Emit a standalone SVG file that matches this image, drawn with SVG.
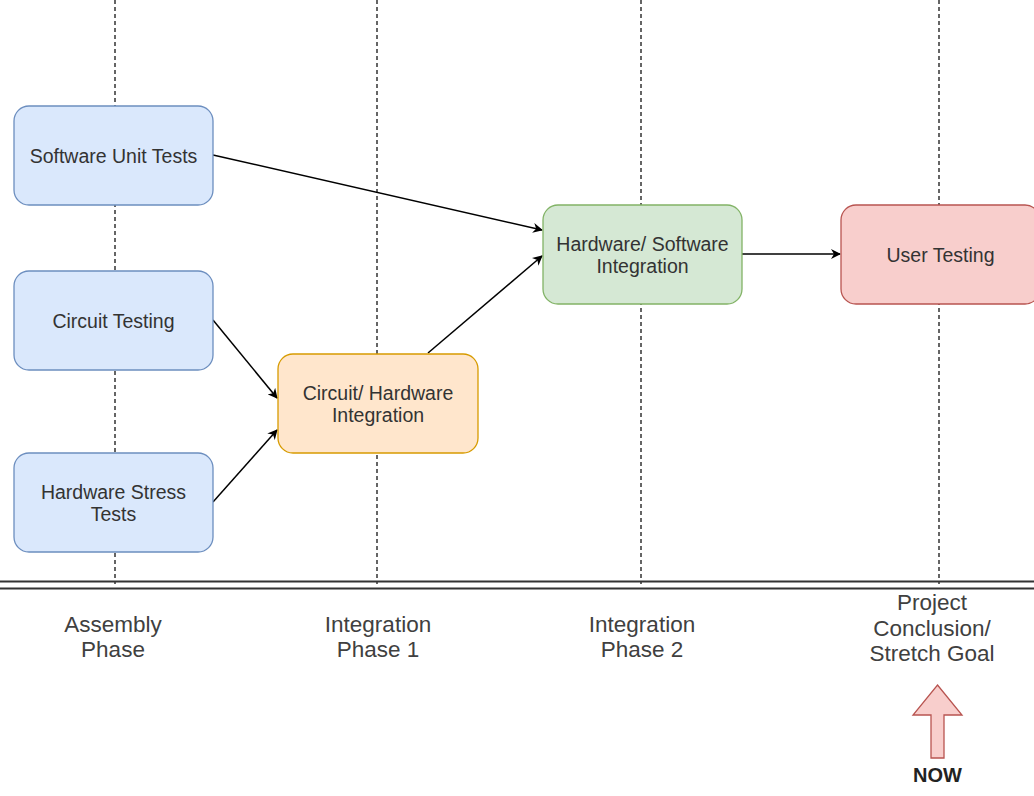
<svg xmlns="http://www.w3.org/2000/svg" width="1034" height="796" viewBox="0 0 1034 796">
<defs>
<style>
.lane{stroke:#333;stroke-width:1.5;stroke-dasharray:4 3;fill:none}
.base{stroke:#333;stroke-width:2;fill:none}
.box{stroke-width:1.3}
.blue{fill:#dae8fc;stroke:#6c8ebf}
.orange{fill:#ffe6cc;stroke:#d79b00}
.green{fill:#d5e8d4;stroke:#82b366}
.red{fill:#f8cecc;stroke:#b85450}
.t{font-family:"Liberation Sans",Arial,sans-serif;font-size:19.5px;fill:#333;text-anchor:middle}
.lbl{font-family:"Liberation Sans",Arial,sans-serif;font-size:22.5px;fill:#404040;text-anchor:middle}
.edge{stroke:#000;stroke-width:1.5;fill:none;marker-end:url(#ah)}
</style>
<marker id="ah" viewBox="0 0 10 10" refX="9" refY="5" markerWidth="10" markerHeight="10" markerUnits="userSpaceOnUse" orient="auto">
<path d="M0,0 L10,5 L0,10 L3,5 Z" fill="#000"/>
</marker>
</defs>
<rect width="1034" height="796" fill="#fff"/>
<g id="timeline">
<line class="lane" x1="115" y1="0" x2="115" y2="584"/>
<line class="lane" x1="377" y1="0" x2="377" y2="584"/>
<line class="lane" x1="641" y1="0" x2="641" y2="584"/>
<line class="lane" x1="939" y1="0" x2="939" y2="584"/>
<line class="base" x1="0" y1="581.5" x2="1034" y2="581.5"/>
<line class="base" x1="0" y1="588.5" x2="1034" y2="588.5"/>
</g>
<g id="connectors">
<line class="edge" x1="213" y1="155" x2="542" y2="230"/>
<line class="edge" x1="213" y1="320" x2="277" y2="398"/>
<line class="edge" x1="213" y1="502" x2="277" y2="430"/>
<line class="edge" x1="428" y1="353" x2="542" y2="256"/>
<line class="edge" x1="742" y1="254" x2="840" y2="254"/>
</g>
<g id="software-unit-tests">
<rect class="box blue" x="14" y="106" width="199" height="99" rx="15"/>
<text class="t" x="113.5" y="162.5">Software Unit Tests</text>
</g>
<g id="circuit-testing">
<rect class="box blue" x="14" y="271" width="199" height="99" rx="15"/>
<text class="t" x="113.5" y="327.5">Circuit Testing</text>
</g>
<g id="hardware-stress-tests">
<rect class="box blue" x="14" y="453" width="199" height="99" rx="15"/>
<text class="t" x="113.5" y="498.5">Hardware Stress</text>
<text class="t" x="113.5" y="520.5">Tests</text>
</g>
<g id="circuit-hardware-integration">
<rect class="box orange" x="278" y="354" width="200" height="99" rx="15"/>
<text class="t" x="378" y="399.5">Circuit/ Hardware</text>
<text class="t" x="378" y="421.5">Integration</text>
</g>
<g id="hardware-software-integration">
<rect class="box green" x="543" y="205" width="199" height="99" rx="15"/>
<text class="t" x="642.5" y="250.5">Hardware/ Software</text>
<text class="t" x="642.5" y="272.5">Integration</text>
</g>
<g id="user-testing">
<rect class="box red" x="841" y="205" width="199" height="99" rx="15"/>
<text class="t" x="940.5" y="261.5">User Testing</text>
</g>
<g id="phase-labels">
<text class="lbl" x="113" y="632">Assembly</text>
<text class="lbl" x="113" y="657">Phase</text>
<text class="lbl" x="378" y="632">Integration</text>
<text class="lbl" x="378" y="657">Phase 1</text>
<text class="lbl" x="642" y="632">Integration</text>
<text class="lbl" x="642" y="657">Phase 2</text>
<text class="lbl" x="932" y="610">Project</text>
<text class="lbl" x="932" y="636">Conclusion/</text>
<text class="lbl" x="932" y="661">Stretch Goal</text>
</g>
<g id="now-marker">
<path d="M937.5,685 L962,715 L944,715 L944,758 L931,758 L931,715 L913,715 Z" fill="#f8cecc" stroke="#b85450" stroke-width="1.3"/>
<text x="937.5" y="782" font-family="Liberation Sans, Arial, sans-serif" font-size="20" font-weight="bold" fill="#222" text-anchor="middle">NOW</text>
</g>
</svg>
